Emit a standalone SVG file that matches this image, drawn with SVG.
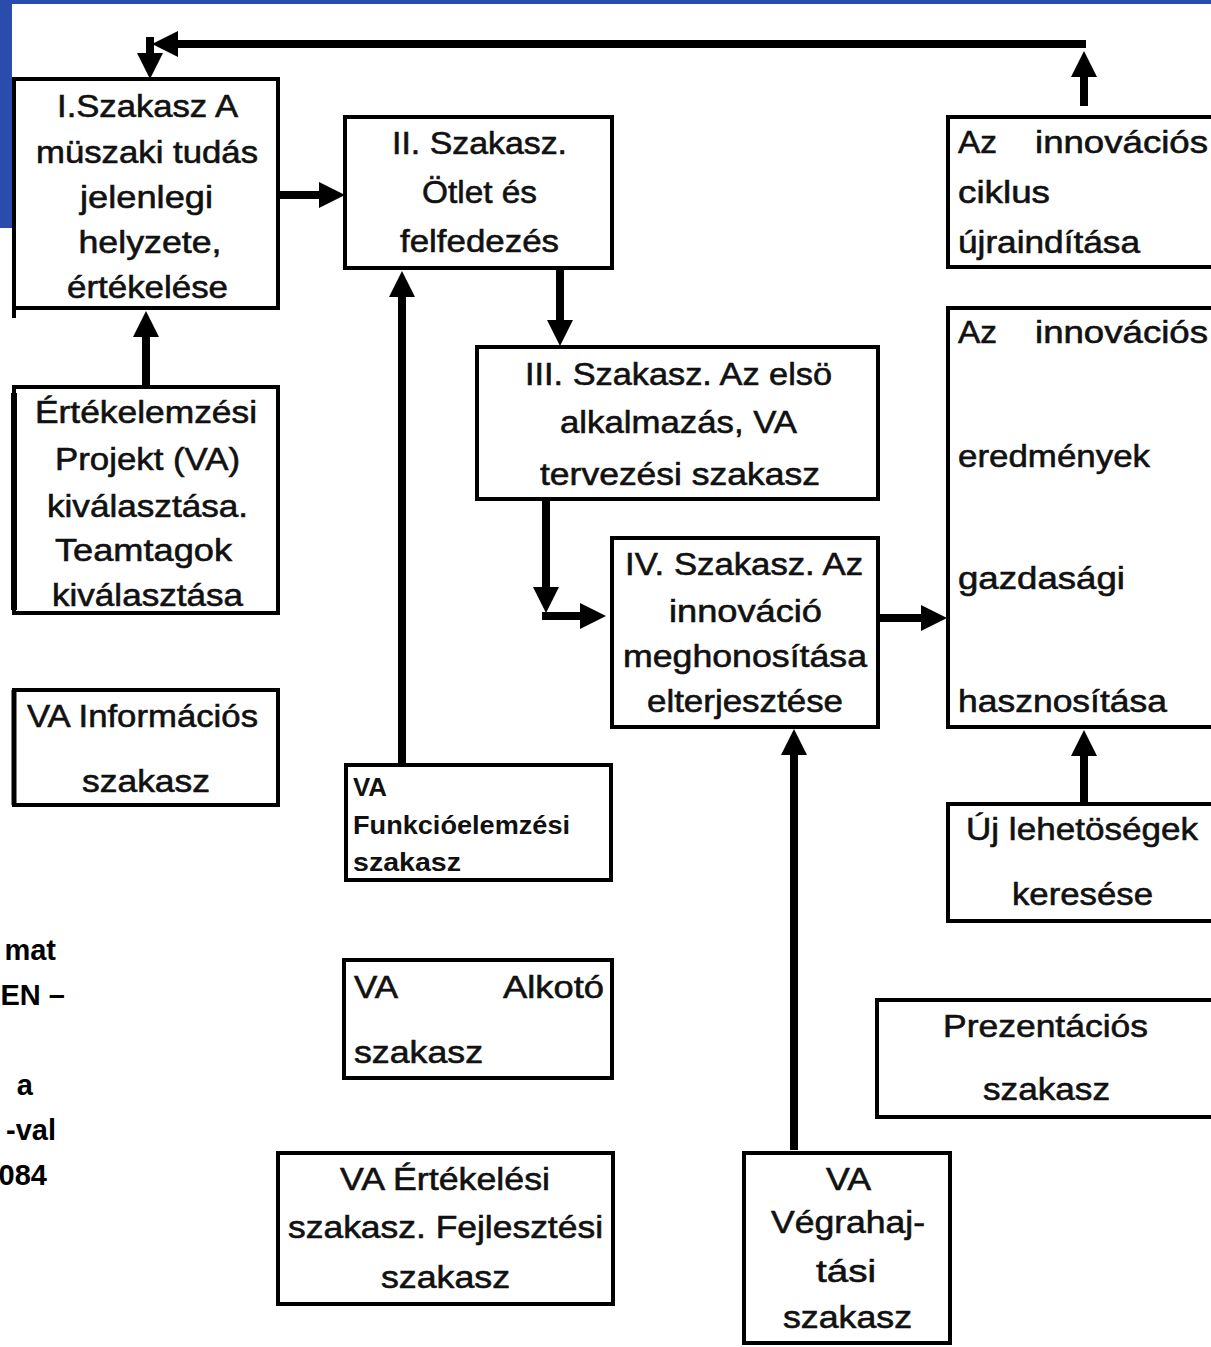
<svg xmlns="http://www.w3.org/2000/svg" width="1211" height="1347" viewBox="0 0 1211 1347">
<style>
.bg{fill:#ffffff}
.blue{fill:#2a4cad}
.box{fill:#ffffff;stroke:#000;stroke-width:4}
.t{font-family:"Liberation Sans",Arial,sans-serif;font-size:32px;fill:#111;stroke:#111;stroke-width:0.6}
.c{text-anchor:middle}
.f{font-family:"Liberation Sans",Arial,sans-serif;font-size:26px;font-weight:bold;fill:#111}
.side{font-family:"Liberation Sans",Arial,sans-serif;font-size:29px;font-weight:bold;fill:#000;text-anchor:end}
.con{fill:none;stroke:#000;stroke-width:8}
</style>
<defs>
<marker id="ah" viewBox="0 0 26 26" markerWidth="26" markerHeight="26" refX="0" refY="13" orient="auto" markerUnits="userSpaceOnUse">
<path d="M0,0 L26,13 L0,26 z" fill="#000"/>
</marker>
</defs>
<rect class="bg" x="0" y="0" width="1211" height="1347"/>
<rect class="blue" x="0" y="0" width="1211" height="4"/>
<rect class="blue" x="0" y="0" width="12" height="228"/>

<g id="connectors">
<line class="con" x1="1084" y1="106" x2="1084" y2="77" marker-end="url(#ah)"/>
<line class="con" x1="1086" y1="44" x2="178" y2="44" marker-end="url(#ah)"/>
<line class="con" x1="150" y1="37" x2="150" y2="53" marker-end="url(#ah)"/>
<line class="con" x1="278" y1="195" x2="319" y2="195" marker-end="url(#ah)"/>
<line class="con" x1="402" y1="765" x2="402" y2="297" marker-end="url(#ah)"/>
<line class="con" x1="560" y1="268" x2="560" y2="320" marker-end="url(#ah)"/>
<line class="con" x1="546" y1="499" x2="546" y2="587" marker-end="url(#ah)"/>
<line class="con" x1="542" y1="616" x2="580" y2="616" marker-end="url(#ah)"/>
<line class="con" x1="878" y1="618" x2="921" y2="618" marker-end="url(#ah)"/>
<line class="con" x1="1084" y1="804" x2="1084" y2="756" marker-end="url(#ah)"/>
<line class="con" x1="794" y1="1150" x2="794" y2="755" marker-end="url(#ah)"/>
<line class="con" x1="146" y1="387" x2="146" y2="337" marker-end="url(#ah)"/>
</g>

<g id="n1">
<rect class="box" x="14" y="79" width="264" height="229"/>
<line x1="14" y1="300" x2="14" y2="318" stroke="#000" stroke-width="4"/>
<text class="t c" x="147.5" y="117" textLength="181" lengthAdjust="spacingAndGlyphs">I.Szakasz A</text>
<text class="t c" x="147" y="163" textLength="222" lengthAdjust="spacingAndGlyphs">müszaki tudás</text>
<text class="t c" x="146.5" y="208" textLength="133" lengthAdjust="spacingAndGlyphs">jelenlegi</text>
<text class="t c" x="150" y="253" textLength="143" lengthAdjust="spacingAndGlyphs">helyzete,</text>
<text class="t c" x="147.5" y="298" textLength="161" lengthAdjust="spacingAndGlyphs">értékelése</text>
</g>

<g id="n2">
<rect class="box" x="345" y="117" width="267" height="151"/>
<text class="t c" x="479.5" y="154" textLength="175" lengthAdjust="spacingAndGlyphs">II. Szakasz.</text>
<text class="t c" x="479.5" y="203" textLength="115" lengthAdjust="spacingAndGlyphs">Ötlet és</text>
<text class="t c" x="479.5" y="252" textLength="159" lengthAdjust="spacingAndGlyphs">felfedezés</text>
</g>

<g id="n3">
<rect class="box" x="477" y="347" width="401" height="152"/>
<text class="t c" x="678.5" y="385" textLength="307" lengthAdjust="spacingAndGlyphs">III. Szakasz. Az elsö</text>
<text class="t c" x="678.5" y="433" textLength="237" lengthAdjust="spacingAndGlyphs">alkalmazás, VA</text>
<text class="t c" x="680" y="485" textLength="280" lengthAdjust="spacingAndGlyphs">tervezési szakasz</text>
</g>

<g id="n4">
<rect class="box" x="612" y="538" width="266" height="189"/>
<text class="t c" x="744" y="575" textLength="238" lengthAdjust="spacingAndGlyphs">IV. Szakasz. Az</text>
<text class="t c" x="745.5" y="622" textLength="153" lengthAdjust="spacingAndGlyphs">innováció</text>
<text class="t c" x="745" y="667" textLength="244" lengthAdjust="spacingAndGlyphs">meghonosítása</text>
<text class="t c" x="745" y="712" textLength="196" lengthAdjust="spacingAndGlyphs">elterjesztése</text>
</g>

<g id="n5">
<rect class="box" x="948" y="117" width="270" height="150"/>
<text class="t" x="958" y="153" textLength="39" lengthAdjust="spacingAndGlyphs">Az</text>
<text class="t" x="1035" y="153" textLength="173" lengthAdjust="spacingAndGlyphs">innovációs</text>
<text class="t" x="958" y="203" textLength="92" lengthAdjust="spacingAndGlyphs">ciklus</text>
<text class="t" x="958" y="253" textLength="182" lengthAdjust="spacingAndGlyphs">újraindítása</text>
</g>

<g id="n6">
<rect class="box" x="948" y="308" width="270" height="419"/>
<text class="t" x="958" y="343" textLength="39" lengthAdjust="spacingAndGlyphs">Az</text>
<text class="t" x="1035" y="343" textLength="173" lengthAdjust="spacingAndGlyphs">innovációs</text>
<text class="t" x="958" y="467" textLength="192" lengthAdjust="spacingAndGlyphs">eredmények</text>
<text class="t" x="958" y="589" textLength="167" lengthAdjust="spacingAndGlyphs">gazdasági</text>
<text class="t" x="958" y="712" textLength="209" lengthAdjust="spacingAndGlyphs">hasznosítása</text>
</g>

<g id="n7">
<rect class="box" x="948" y="804" width="270" height="117"/>
<text class="t c" x="1082" y="840" textLength="232" lengthAdjust="spacingAndGlyphs">Új lehetöségek</text>
<text class="t c" x="1082.5" y="905" textLength="141" lengthAdjust="spacingAndGlyphs">keresése</text>
</g>

<g id="n8">
<rect class="box" x="877" y="1000" width="340" height="117"/>
<text class="t c" x="1045.5" y="1037" textLength="205" lengthAdjust="spacingAndGlyphs">Prezentációs</text>
<text class="t c" x="1046.5" y="1100" textLength="127" lengthAdjust="spacingAndGlyphs">szakasz</text>
</g>

<g id="n9">
<rect class="box" x="744" y="1153" width="206" height="190"/>
<text class="t c" x="848.5" y="1190" textLength="45" lengthAdjust="spacingAndGlyphs">VA</text>
<text class="t c" x="848" y="1233" textLength="154" lengthAdjust="spacingAndGlyphs">Végrahaj-</text>
<text class="t c" x="846" y="1282" textLength="60" lengthAdjust="spacingAndGlyphs">tási</text>
<text class="t c" x="847.5" y="1328" textLength="129" lengthAdjust="spacingAndGlyphs">szakasz</text>
</g>

<g id="n10">
<rect class="box" x="278" y="1153" width="335" height="151"/>
<text class="t c" x="445" y="1190" textLength="210" lengthAdjust="spacingAndGlyphs">VA Értékelési</text>
<text class="t c" x="445.5" y="1238" textLength="315" lengthAdjust="spacingAndGlyphs">szakasz. Fejlesztési</text>
<text class="t c" x="445.5" y="1288" textLength="129" lengthAdjust="spacingAndGlyphs">szakasz</text>
</g>

<g id="n11">
<rect class="box" x="344" y="960" width="268" height="118"/>
<text class="t" x="354" y="998" textLength="44" lengthAdjust="spacingAndGlyphs">VA</text>
<text class="t" x="503" y="998" textLength="101" lengthAdjust="spacingAndGlyphs">Alkotó</text>
<text class="t" x="354" y="1063" textLength="129" lengthAdjust="spacingAndGlyphs">szakasz</text>
</g>

<g id="n12">
<rect class="box" x="346" y="765" width="265" height="115"/>
<text class="f" x="353" y="796" textLength="34" lengthAdjust="spacingAndGlyphs">VA</text>
<text class="f" x="353" y="834" textLength="217" lengthAdjust="spacingAndGlyphs">Funkcióelemzési</text>
<text class="f" x="353" y="871" textLength="108" lengthAdjust="spacingAndGlyphs">szakasz</text>
</g>

<g id="n13">
<rect class="box" x="14" y="690" width="264" height="115"/>
<line x1="14" y1="690" x2="14" y2="805" stroke="#000" stroke-width="5"/>
<text class="t c" x="142.5" y="727" textLength="231" lengthAdjust="spacingAndGlyphs">VA Információs</text>
<text class="t c" x="146" y="792" textLength="128" lengthAdjust="spacingAndGlyphs">szakasz</text>
</g>

<g id="n14">
<rect class="box" x="14" y="387" width="264" height="226"/>
<line x1="14" y1="393" x2="14" y2="610" stroke="#000" stroke-width="6"/>
<text class="t c" x="146" y="423" textLength="222" lengthAdjust="spacingAndGlyphs">Értékelemzési</text>
<text class="t c" x="147.5" y="470" textLength="185" lengthAdjust="spacingAndGlyphs">Projekt (VA)</text>
<text class="t c" x="147.5" y="517" textLength="201" lengthAdjust="spacingAndGlyphs">kiválasztása.</text>
<text class="t c" x="143.5" y="561" textLength="177" lengthAdjust="spacingAndGlyphs">Teamtagok</text>
<text class="t c" x="147.5" y="606" textLength="191" lengthAdjust="spacingAndGlyphs">kiválasztása</text>
</g>

<g id="side-text">
<text class="side" x="56" y="960">mat</text>
<text class="side" x="65" y="1005">EN –</text>
<text class="side" x="33" y="1095">a</text>
<text class="side" x="56" y="1140">-val</text>
<text class="side" x="47" y="1185">084</text>
</g>
</svg>
